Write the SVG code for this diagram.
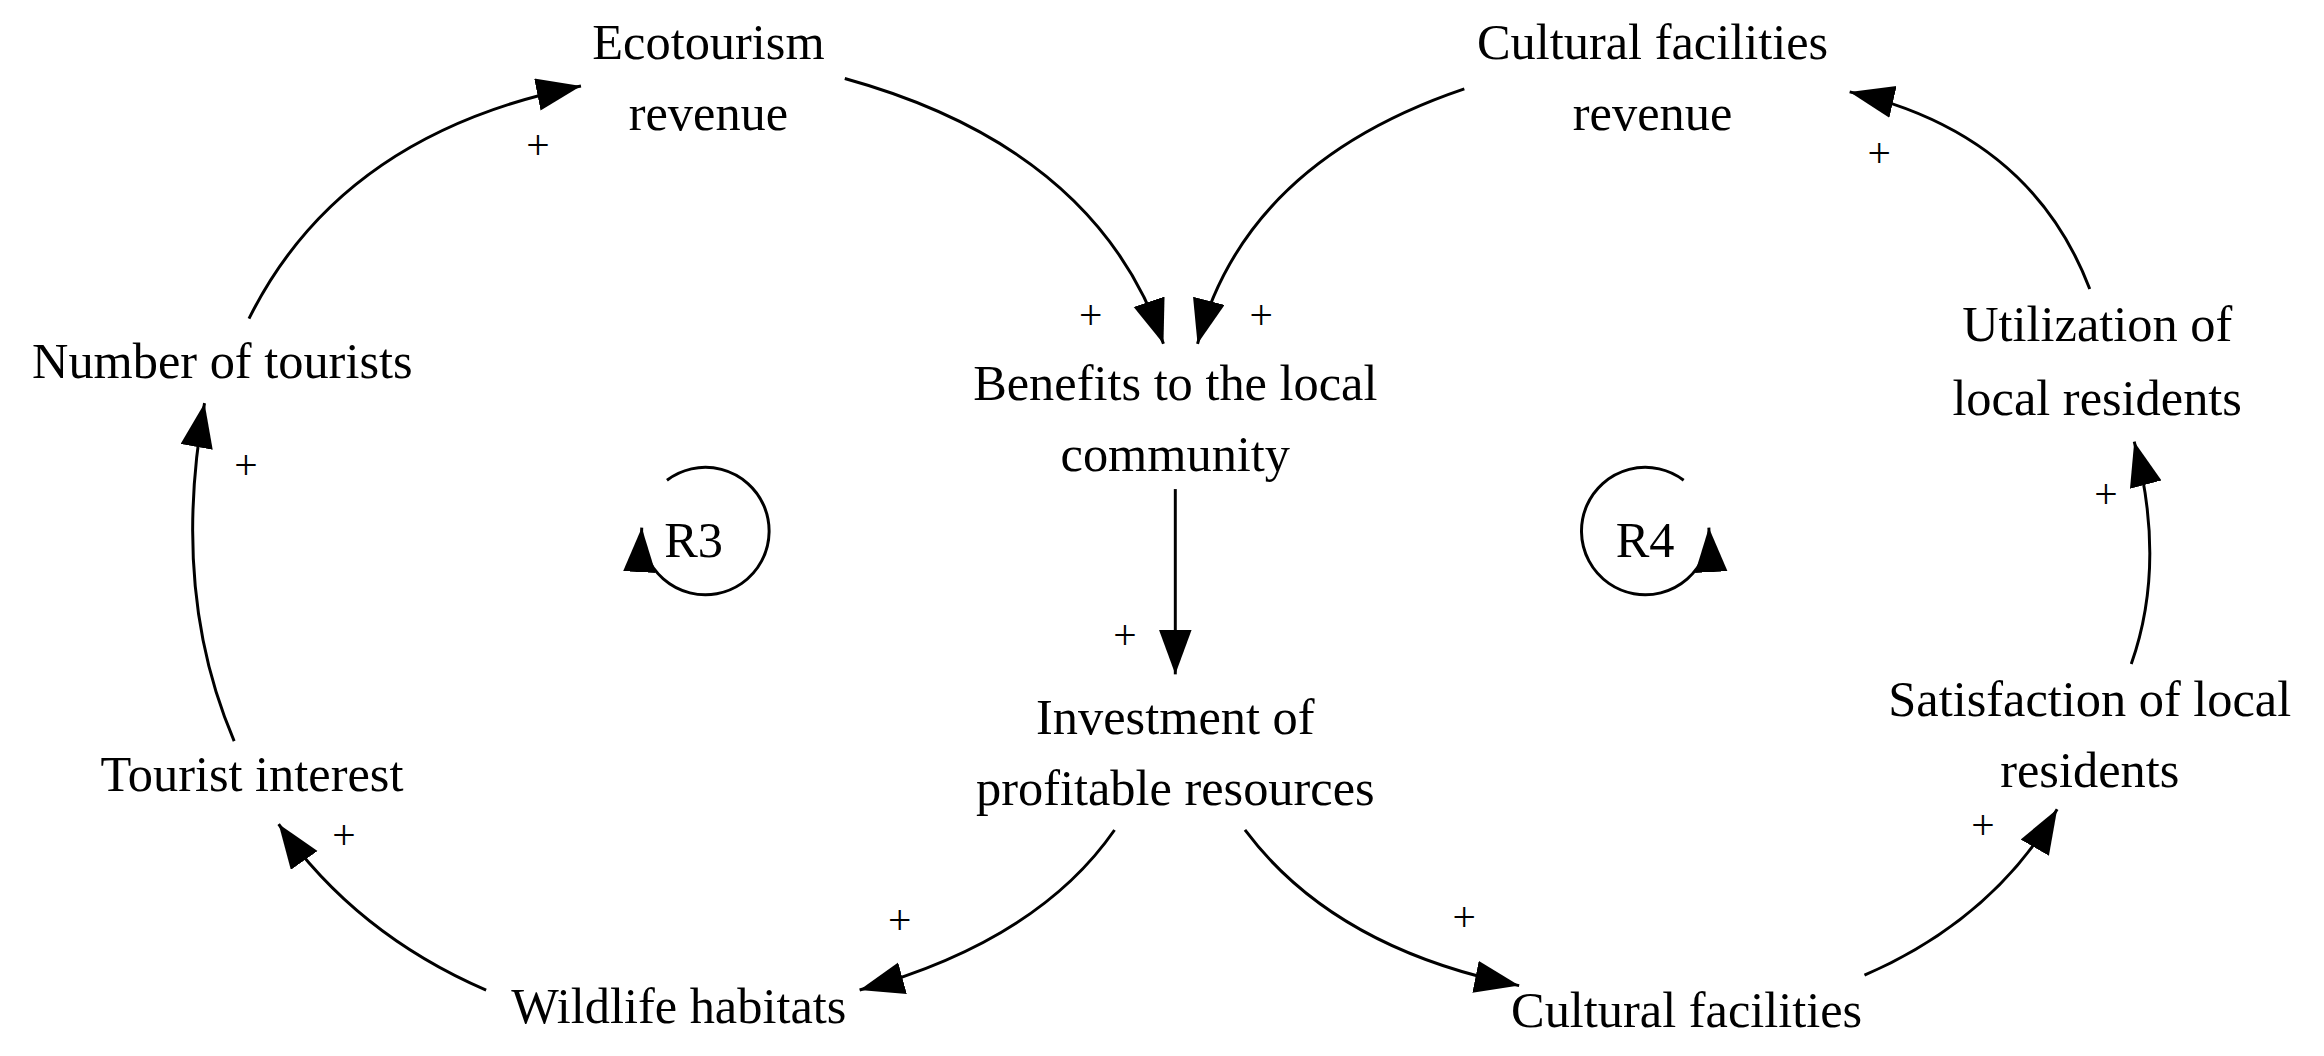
<svg xmlns="http://www.w3.org/2000/svg" width="2324" height="1056" viewBox="0 0 2324 1056">
<style>
text{font-family:"Liberation Serif","Times New Roman",serif;font-size:34px;fill:#000;text-anchor:middle}
.p{font-size:28px}
.c path{fill:none;stroke:#000;stroke-width:2}
</style>
<defs>
<marker id="a" markerUnits="userSpaceOnUse" markerWidth="32" markerHeight="24" refX="30" refY="11" orient="auto"><path d="M0,0 L30,11 L0,22 Z" fill="#000"/></marker>
</defs>
<rect width="2324" height="1056" fill="#fff"/>
<g transform="scale(1.4821)">
<g class="c" id="connectors">
<path d="M168,215 Q230,90 392,58" marker-end="url(#a)"/>
<path d="M570,53 Q740,100 785,232" marker-end="url(#a)"/>
<path d="M988,60 Q840,110 808,232" marker-end="url(#a)"/>
<path d="M1410,195 Q1370,90 1248,62" marker-end="url(#a)"/>
<path d="M793,330 L793,455" marker-end="url(#a)"/>
<path d="M752,560 Q700,635 580,668" marker-end="url(#a)"/>
<path d="M840,560 Q900,640 1025,665" marker-end="url(#a)"/>
<path d="M1258,658 Q1345,620 1388,546" marker-end="url(#a)"/>
<path d="M1438,448 Q1462,380 1440,298" marker-end="url(#a)"/>
<path d="M328,668 Q240,630 188,556" marker-end="url(#a)"/>
<path d="M158,500 Q115,400 138,272" marker-end="url(#a)"/>
<path d="M450,324 A43,43 0 1 1 433,356" marker-end="url(#a)"/>
<path d="M1136,324 A43,43 0 1 0 1153,356" marker-end="url(#a)"/>
</g>
<g id="labels">
<text class="p" x="363" y="107">+</text>
<text class="p" x="736" y="222">+</text>
<text class="p" x="851" y="222">+</text>
<text class="p" x="1268" y="113">+</text>
<text class="p" x="166" y="323">+</text>
<text class="p" x="759" y="438">+</text>
<text class="p" x="1421" y="343">+</text>
<text class="p" x="607" y="630">+</text>
<text class="p" x="232" y="573">+</text>
<text class="p" x="988" y="628">+</text>
<text class="p" x="1338" y="566">+</text>
</g>
<g id="eco"><text x="478" y="40">Ecotourism</text><text x="478" y="88">revenue</text></g>
<g id="cfr"><text x="1115" y="40">Cultural facilities</text><text x="1115" y="88">revenue</text></g>
<g id="tourists"><text x="150" y="255">Number of tourists</text></g>
<g id="benefits"><text x="793" y="270">Benefits to the local</text><text x="793" y="318">community</text></g>
<g id="util"><text x="1415" y="230">Utilization of</text><text x="1415" y="280">local residents</text></g>
<g id="r3"><text x="468" y="376">R3</text></g>
<g id="r4"><text x="1110" y="376">R4</text></g>
<g id="invest"><text x="793" y="495">Investment of</text><text x="793" y="543">profitable resources</text></g>
<g id="interest"><text x="170" y="534">Tourist interest</text></g>
<g id="sat"><text x="1410" y="483">Satisfaction of local</text><text x="1410" y="531">residents</text></g>
<g id="wild"><text x="458" y="690">Wildlife habitats</text></g>
<g id="cf"><text x="1138" y="693">Cultural facilities</text></g>
</g>
</svg>
